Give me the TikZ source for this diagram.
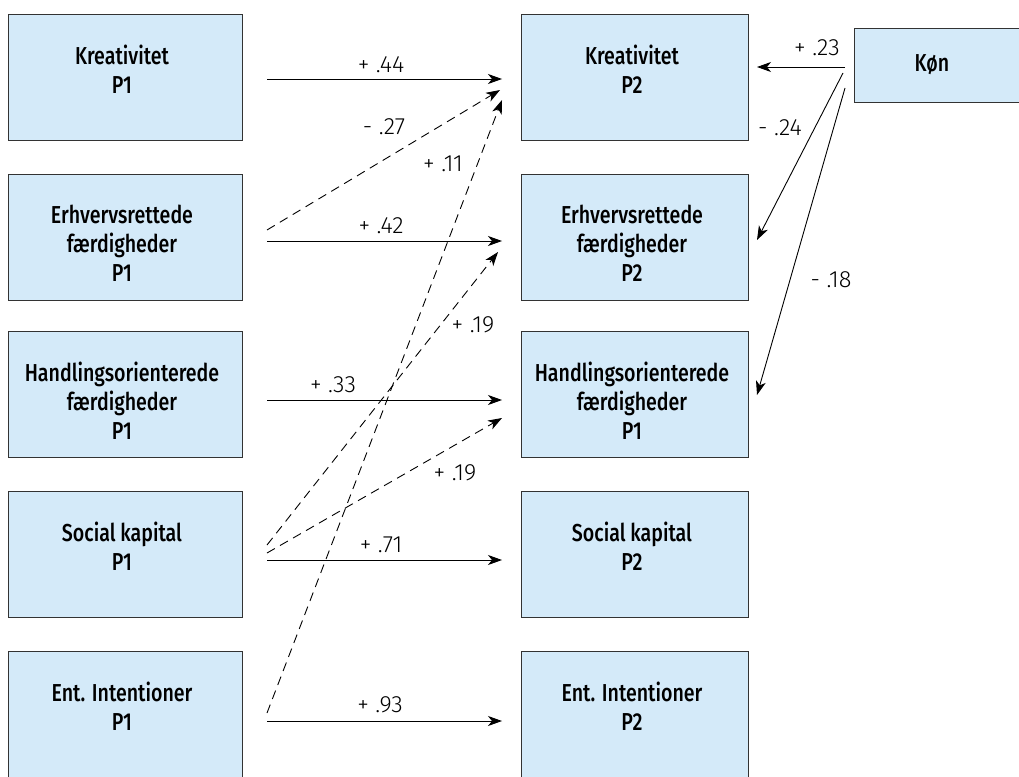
\documentclass[tikz,border=0pt]{standalone}
\usepackage{fontspec}
\setmainfont{Fira Sans}
\newfontfamily\boxfont{Fira Sans Medium}[FakeStretch=0.8]
\newfontfamily\labfont{Fira Sans Light}
\usetikzlibrary{arrows.meta,calc}
\definecolor{boxblue}{RGB}{212,234,249}
\definecolor{boxline}{RGB}{51,51,51}
\begin{document}
\begin{tikzpicture}[x=1pt,y=-1pt,
  box/.style={draw=boxline, fill=boxblue, line width=1pt, inner sep=0pt, anchor=north west},
  lbox/.style={box, minimum width=234pt, minimum height=126pt},
  rbox/.style={box, minimum width=227pt, minimum height=126pt},
  btext/.style={font=\boxfont\fontsize{24.5}{29}\selectfont, align=center, inner sep=0pt, anchor=north},
  lab/.style={font=\labfont\fontsize{23.5}{26}\selectfont, inner sep=0pt},
  arr/.style={line width=0.9pt, -{Stealth[length=14pt,width=10pt,inset=4pt]}},
  dsh/.style={arr, dash pattern=on 9pt off 6pt}]
\useasboundingbox (0,0) rectangle (1019,776);
% left boxes
\node[lbox] (k1) at (8,14) {};
\node[lbox] (e1) at (8,174) {};
\node[lbox] (h1) at (8,331) {};
\node[lbox] (s1) at (8,491) {};
\node[lbox] (i1) at (8,651) {};
% right boxes
\node[rbox] (k2) at (521,14) {};
\node[rbox] (e2) at (521,174) {};
\node[rbox] (h2) at (521,331) {};
\node[rbox] (s2) at (521,491) {};
\node[rbox] (i2) at (521,651) {};
% Koen box
\node[box, minimum width=180pt, minimum height=74pt] (kon) at (854,28) {};
% texts
\node[btext] (tk1) at (122,45) {Kreativitet\\P1};
\node[btext] (te1) at (122,205) {Erhvervsrettede\\færdigheder\\P1};
\node[btext] (th1) at (122,362) {Handlingsorienterede\\færdigheder\\P1};
\node[btext] (ts1) at (122,522) {Social kapital\\P1};
\node[btext] (ti1) at (122,682) {Ent. Intentioner\\P1};
\node[btext] (tk2) at (632,45) {Kreativitet\\P2};
\node[btext] (te2) at (632,205) {Erhvervsrettede\\færdigheder\\P2};
\node[btext] (th2) at (632,362) {Handlingsorienterede\\færdigheder\\P1};
\node[btext] (ts2) at (632,522) {Social kapital\\P2};
\node[btext] (ti2) at (632,682) {Ent. Intentioner\\P2};
\node[font=\boxfont\fontsize{24.5}{29}\selectfont, inner sep=0pt] (tkon) at (932,65) {Køn};
% endpoints
\coordinate (k1o) at (267,79);   \coordinate (k2i) at (502,79);
\coordinate (e1o) at (267,241);  \coordinate (e2i) at (502,241);
\coordinate (h1o) at (267,400);  \coordinate (h2i) at (502,400);
\coordinate (s1o) at (267,560);  \coordinate (s2i) at (502,560);
\coordinate (i1o) at (267,721);  \coordinate (i2i) at (502,721);
\coordinate (e1d) at (267,230);  \coordinate (k2d1) at (500,90);
\coordinate (i1d) at (267,713);  \coordinate (k2d2) at (502,100);
\coordinate (s1d1) at (267,545); \coordinate (e2d) at (498,252);
\coordinate (s1d2) at (267,553); \coordinate (h2d) at (502,418);
\coordinate (kon1) at (845,67);  \coordinate (k2k) at (757,67);
\coordinate (kon2) at (843,73);  \coordinate (e2k) at (757,240);
\coordinate (kon3) at (845,88);  \coordinate (h2k) at (757,395);
% solid arrows
\draw[arr] (k1o) -- (k2i);
\draw[arr] (e1o) -- (e2i);
\draw[arr] (h1o) -- (h2i);
\draw[arr] (s1o) -- (s2i);
\draw[arr] (i1o) -- (i2i);
% dashed arrows
\draw[dsh] (e1d) -- (k2d1);
\draw[dsh] (i1d) -- (k2d2);
\draw[dsh] (s1d1) -- (e2d);
\draw[dsh] (s1d2) -- (h2d);
% Koen arrows
\draw[arr] (kon1) -- (k2k);
\draw[arr] (kon2) -- (e2k);
\draw[arr] (kon3) -- (h2k);
% labels
\node[lab] (l44) at (381,65) {+ .44};
\node[lab] (l27) at (384,127) {- .27};
\node[lab] (l11) at (443,164) {+ .11};
\node[lab] (l42) at (381,226) {+ .42};
\node[lab] (l19a) at (473,325) {+ .19};
\node[lab] (l33) at (333,385) {+ .33};
\node[lab] (l19b) at (455,473) {+ .19};
\node[lab] (l71) at (381,545) {+ .71};
\node[lab] (l93) at (380,705) {+ .93};
\node[lab] (l23) at (817,48) {+ .23};
\node[lab] (l24) at (780,128) {- .24};
\node[lab] (l18) at (831,280) {- .18};
\end{tikzpicture}
\end{document}
